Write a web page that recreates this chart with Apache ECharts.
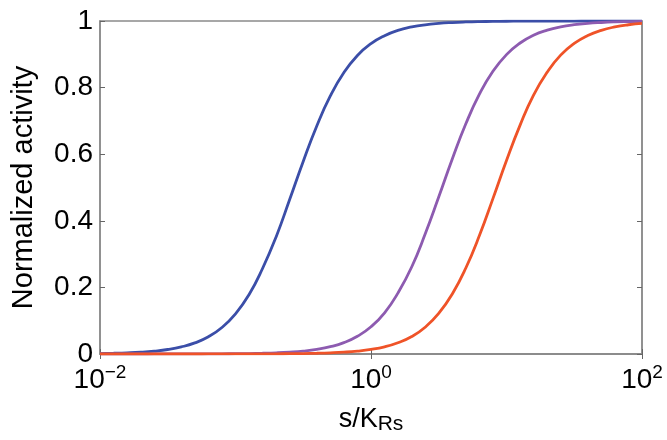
<!DOCTYPE html>
<html>
<head>
<meta charset="utf-8">
<script src="https://cdn.jsdelivr.net/npm/echarts@6/dist/echarts.min.js"></script>
<style>html,body{margin:0;padding:0;background:#fff;}#c{width:667px;height:440px;}</style>
</head>
<body>
<div id="c"></div>
<script>
// s/K_Rs sample points (log-spaced, 10^-2 .. 10^2)
const sValues = [0.01,0.0126,0.0158,0.02,0.0251,0.0316,0.0398,0.0501,0.0631,0.0794,
  0.1,0.126,0.158,0.2,0.251,0.316,0.398,0.501,0.631,0.794,
  1,1.26,1.58,2,2.51,3.16,3.98,5.01,6.31,7.94,
  10,12.6,15.8,20,25.1,31.6,39.8,50.1,63.1,79.4,100];
// Normalized activity
const blueValues = [0.0014,0.0022,0.0034,0.0054,0.0086,0.0135,0.0213,0.0333,0.0518,0.0796,
  0.1206,0.1786,0.2561,0.3531,0.4638,0.5783,0.6849,0.775,0.8452,0.8964,
  0.932,0.956,0.9718,0.982,0.9886,0.9928,0.9954,0.9971,0.9982,0.9988,
  0.9993,0.9995,0.9997,0.9998,0.9999,0.9999,1,1,1,1,1];
const purpleValues = [0,0,0,0,0.0001,0.0001,0.0001,0.0002,0.0004,0.0006,
  0.0009,0.0014,0.0022,0.0035,0.0056,0.0088,0.0139,0.0219,0.0343,0.0532,
  0.0818,0.1238,0.1829,0.2619,0.36,0.4712,0.5855,0.6912,0.7801,0.849,
  0.8991,0.9339,0.9572,0.9726,0.9825,0.9889,0.993,0.9955,0.9972,0.9982,0.9989];
const orangeValues = [0,0,0,0,0,0,0,0,0.0001,0.0001,
  0.0001,0.0002,0.0003,0.0006,0.0009,0.0014,0.0022,0.0035,0.0055,0.0087,
  0.0137,0.0215,0.0337,0.0523,0.0804,0.1218,0.1802,0.2583,0.3557,0.4666,
  0.581,0.6873,0.7769,0.8467,0.8974,0.9327,0.9565,0.9721,0.9822,0.9887,0.9928];
const yTicks = [0,0.2,0.4,0.6,0.8,1];
const xLabel = 's/K';
const xLabelSub = 'Rs';
const yLabel = 'Normalized activity';

const FONT = 'Liberation Sans, Arial, Helvetica, sans-serif';
const pair = (vals) => sValues.map((s,i)=>[s, vals[i]]);
const chart = echarts.init(document.getElementById('c'), null, {renderer:'canvas'});
const expFmt = v => { const e = Math.round(Math.log10(v)); return '{b|10}{s|' + (e<0 ? '\u2212'+(-e) : e) + '}'; };
const frameColor = '#8a8a8a';
chart.setOption({
  animation:false,
  backgroundColor:'#ffffff',
  grid:{left:100,right:25,top:21,bottom:83,show:true,borderColor:frameColor,borderWidth:1.5,backgroundColor:'transparent'},
  xAxis:[{
    type:'log', logBase:10, min:0.01, max:100, interval:2,
    name:'{m|'+xLabel+'}{sub|'+xLabelSub+'}', nameLocation:'middle', nameGap:50,
    nameTextStyle:{rich:{m:{fontSize:27,fontFamily:FONT,color:'#000'},sub:{fontSize:21,fontFamily:FONT,color:'#000',padding:[10,0,0,0]}}},
    axisLine:{show:true,lineStyle:{color:frameColor,width:1.5}},
    axisTick:{show:true,inside:true,length:5,lineStyle:{color:'#666'}},
    minorTick:{show:false}, splitLine:{show:false},
    axisLabel:{formatter:expFmt,margin:9,rich:{b:{fontSize:28,fontFamily:FONT,color:'#000'},s:{fontSize:19,fontFamily:FONT,color:'#000',padding:[0,0,16,0]}}}
  },{
    type:'log', logBase:10, min:0.01, max:100, interval:2, position:'top',
    axisLine:{show:true,lineStyle:{color:frameColor,width:1.5}},
    axisTick:{show:true,inside:true,length:5,lineStyle:{color:'#666'}},
    axisLabel:{show:false}, splitLine:{show:false}
  }],
  yAxis:[{
    type:'value', min:0, max:1, interval:0.2,
    name:yLabel, nameLocation:'middle', nameGap:62,
    nameTextStyle:{fontSize:29,fontFamily:FONT,color:'#000'},
    axisLine:{show:true,lineStyle:{color:frameColor,width:1.5}},
    axisTick:{show:true,inside:true,length:5,lineStyle:{color:'#666'}},
    splitLine:{show:false},
    axisLabel:{fontSize:28,fontFamily:FONT,color:'#000',margin:7,formatter:v=>String(Math.round(v*10)/10)}
  },{
    type:'value', min:0, max:1, interval:0.2, position:'right',
    axisLine:{show:true,lineStyle:{color:frameColor,width:1.5}},
    axisTick:{show:true,inside:true,length:5,lineStyle:{color:'#666'}},
    axisLabel:{show:false}, splitLine:{show:false}
  }],
  series:[
    {type:'line',data:pair(blueValues),showSymbol:false,smooth:true,lineStyle:{color:'#3b4ea8',width:2.8},itemStyle:{color:'#3b4ea8'},z:3},
    {type:'line',data:pair(purpleValues),showSymbol:false,smooth:true,lineStyle:{color:'#8d5bb0',width:2.8},itemStyle:{color:'#8d5bb0'},z:3},
    {type:'line',data:pair(orangeValues),showSymbol:false,smooth:true,lineStyle:{color:'#ef5328',width:2.8},itemStyle:{color:'#ef5328'},z:4}
  ]
});
</script>
</body>
</html>
